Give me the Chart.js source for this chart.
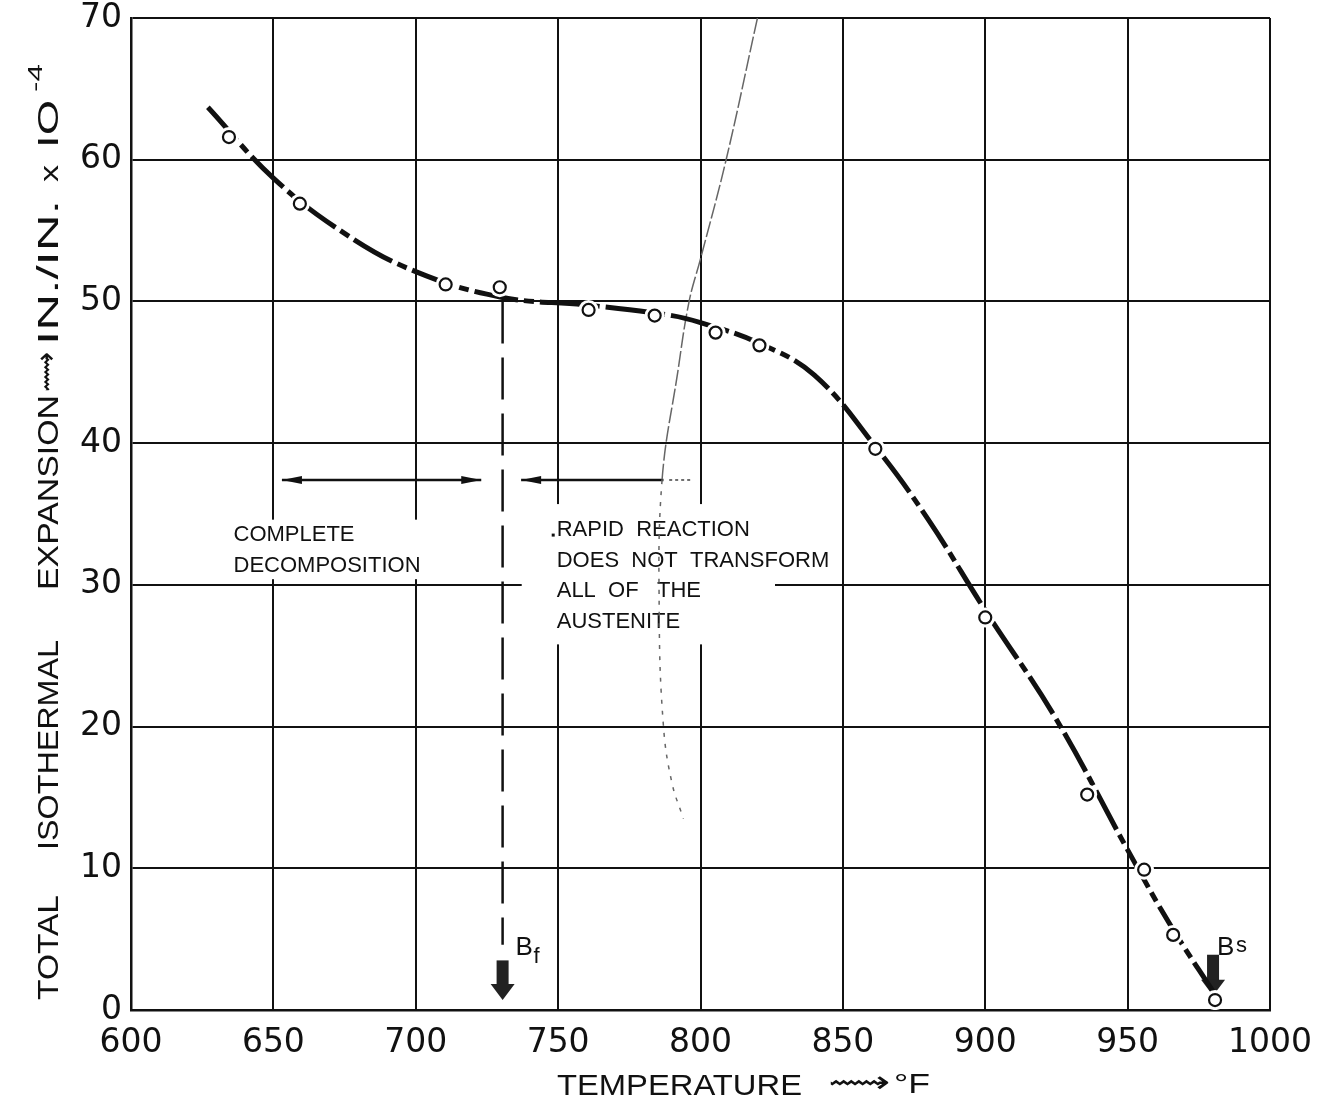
<!DOCTYPE html>
<html>
<head>
<meta charset="utf-8">
<script src="https://cdn.jsdelivr.net/npm/chart.js@4.4.0/dist/chart.umd.min.js"></script>
<style>
  html, body { margin: 0; padding: 0; background: #fff; }
  canvas { display: block; }
</style>
</head>
<body>
<canvas id="grafico" width="1331" height="1105"></canvas>
<script>
// measured points (circles)
const tempPoints = [634.4, 659.3, 710.5, 729.5, 760.7, 783.9, 805.3, 820.7, 861.4, 900, 935.8, 955.8, 966, 980.7];
const expansionPoints = [61.6, 56.9, 51.2, 51.0, 49.4, 49.0, 47.8, 46.9, 39.6, 27.7, 15.2, 9.9, 5.3, 0.7];

// faired curve through the points
const curveTemp = [627, 650, 675, 700, 730, 760, 790, 800, 820, 840, 862, 880, 900, 925, 950, 965, 981];
const curveExp = [63.7, 58.7, 54.8, 52.1, 50.3, 49.75, 49.0, 48.5, 47.1, 44.8, 39.6, 34.6, 28.2, 20.5, 11.3, 6.0, 1.0];

// thin construction line crossing the curve
const thinTemp = [820, 809, 800, 796, 792, 786.5, 785.5, 787, 790, 794];
const thinExp = [70, 60, 53, 50, 45, 37.4, 28, 20, 16, 13.5];

// axes
const xTicks = [600, 650, 700, 750, 800, 850, 900, 950, 1000];
const yTicks = [0, 10, 20, 30, 40, 50, 60, 70];

// notes
const leftNote = ['COMPLETE', 'DECOMPOSITION'];
const rightNote = ['RAPID  REACTION', 'DOES  NOT  TRANSFORM', 'ALL  OF   THE', 'AUSTENITE'];
const bf = 730.5, bs = 980;

const pts = (xs, ys) => xs.map((v, i) => ({ x: v, y: ys[i] }));

const anotacoes = {
  id: 'anotacoes',
  beforeDatasetsDraw(chart) {
    const { ctx, scales: { x, y } } = chart;
    ctx.save();
    ctx.font = '22px "Liberation Sans", Arial, sans-serif';
    ctx.textBaseline = 'middle';

    const lx = x.getPixelForValue(636), rx = x.getPixelForValue(749.5);
    // white patches behind the notes (grid is broken there)
    ctx.fillStyle = '#fff';
    ctx.fillRect(rx - 35, y.getPixelForValue(35.7), 810 - rx, y.getPixelForValue(25.8) - y.getPixelForValue(35.7));
    ctx.fillRect(lx - 4, y.getPixelForValue(34.6), 202, y.getPixelForValue(30.4) - y.getPixelForValue(34.6));

    ctx.fillStyle = '#111';
    [33.5, 31.3].forEach((v, i) => ctx.fillText(leftNote[i], lx, y.getPixelForValue(v)));
    [33.9, 31.7, 29.6, 27.4].forEach((v, i) => ctx.fillText(rightNote[i], rx, y.getPixelForValue(v)));
    ctx.fillRect(rx - 5, y.getPixelForValue(33.9) + 4, 3, 3);

    // range arrows
    const ay = y.getPixelForValue(37.4);
    const seta = (xp, dir) => {
      ctx.beginPath();
      ctx.moveTo(xp, ay);
      ctx.lineTo(xp + dir * 20, ay - 4);
      ctx.lineTo(xp + dir * 20, ay + 4);
      ctx.closePath();
      ctx.fill();
    };
    ctx.strokeStyle = '#111';
    ctx.lineWidth = 2.5;
    ctx.beginPath();
    ctx.moveTo(x.getPixelForValue(653), ay);
    ctx.lineTo(x.getPixelForValue(723), ay);
    ctx.moveTo(x.getPixelForValue(737), ay);
    ctx.lineTo(x.getPixelForValue(787), ay);
    ctx.stroke();
    seta(x.getPixelForValue(653), 1);
    seta(x.getPixelForValue(723), -1);
    seta(x.getPixelForValue(737), 1);
    ctx.lineWidth = 1.2;
    ctx.setLineDash([3, 3]);
    ctx.beginPath();
    ctx.moveTo(x.getPixelForValue(789), ay);
    ctx.lineTo(x.getPixelForValue(797), ay);
    ctx.stroke();

    // B_f dashed drop line
    ctx.lineWidth = 2.5;
    ctx.setLineDash([42, 14]);
    ctx.beginPath();
    ctx.moveTo(x.getPixelForValue(bf), y.getPixelForValue(50.0));
    ctx.lineTo(x.getPixelForValue(bf), y.getPixelForValue(4.6));
    ctx.stroke();
    ctx.setLineDash([]);

    // block arrows
    const bloco = (xv, top, bot) => {
      const xp = x.getPixelForValue(xv), t = y.getPixelForValue(top), b = y.getPixelForValue(bot);
      ctx.fillStyle = '#222';
      ctx.fillRect(xp - 6, t, 12, (b - t) - 14);
      ctx.beginPath();
      ctx.moveTo(xp - 12, b - 16);
      ctx.lineTo(xp + 12, b - 16);
      ctx.lineTo(xp, b);
      ctx.closePath();
      ctx.fill();
    };
    bloco(bf, 3.5, 0.7);
    bloco(bs, 3.9, 1.0);

    ctx.fillStyle = '#111';
    ctx.textBaseline = 'alphabetic';
    ctx.font = '26px "Liberation Sans", Arial, sans-serif';
    ctx.fillText('B', x.getPixelForValue(bf) + 13, y.getPixelForValue(3.9));
    ctx.fillText('B', x.getPixelForValue(bs) + 4, y.getPixelForValue(3.9));
    ctx.font = '22px "Liberation Sans", Arial, sans-serif';
    ctx.fillText('f', x.getPixelForValue(bf) + 31, y.getPixelForValue(3.3));
    ctx.fillText('s', x.getPixelForValue(bs) + 23, y.getPixelForValue(4.1));
    ctx.restore();
  },
  afterDraw(chart) {
    const { ctx } = chart;
    ctx.save();
    ctx.fillStyle = '#111';
    ctx.textBaseline = 'alphabetic';
    const peca = (txt, from, to, font) => {
      ctx.font = font;
      const w = ctx.measureText(txt).width;
      ctx.save();
      ctx.translate(from, 0);
      ctx.scale((to - from) / w, 1);
      ctx.fillText(txt, 0, 0);
      ctx.restore();
    };
    // x title
    ctx.save();
    ctx.translate(0, 1095);
    peca('TEMPERATURE', 557, 802, '30px "Liberation Sans", Arial, sans-serif');
    ctx.translate(0, -3);
    peca('\u27FF', 828, 890, '30px "DejaVu Sans", sans-serif');
    ctx.translate(0, 1);
    peca('\u00B0F', 894, 930, '27px "Liberation Sans", Arial, sans-serif');
    ctx.restore();

    // y title, rotated (bottom to top), each piece squeezed to its span
    ctx.translate(58, 0);
    ctx.rotate(-Math.PI / 2);
    const vpeca = (txt, top, bottom, font) => peca(txt, -bottom, -top, font);
    const f = '30px "Liberation Sans", Arial, sans-serif';
    vpeca('TOTAL', 895, 1000, f);
    vpeca('ISOTHERMAL', 640, 850, f);
    vpeca('EXPANSION', 395, 590, f);
    vpeca('IN./IN.', 200, 345, f);
    vpeca('x', 165, 182, '26px "Liberation Sans", Arial, sans-serif');
    vpeca('IO', 100, 148, f);
    ctx.save();
    ctx.translate(0, -16);
    vpeca('-4', 64, 92, '20px "Liberation Sans", Arial, sans-serif');
    ctx.restore();
    ctx.save();
    ctx.translate(0, -2);
    vpeca('\u27FF', 352, 392, '30px "DejaVu Sans", sans-serif');
    ctx.restore();
    ctx.restore();
  }
};

const ctx = document.getElementById('grafico').getContext('2d');
new Chart(ctx, {
  type: 'scatter',
  data: {
    datasets: [
      {
        label: 'Curva',
        data: pts(curveTemp, curveExp),
        showLine: true,
        borderColor: '#111',
        borderWidth: 5,
        borderDash: [44, 6, 10, 6],
        tension: 0.4,
        pointRadius: 0,
        order: 3
      },
      {
        label: 'Linha',
        data: pts(thinTemp, thinExp),
        showLine: true,
        borderColor: '#666',
        borderWidth: 1.5,
        tension: 0.4,
        pointRadius: 0,
        segment: { borderDash: c => c.p0.parsed.y < 38 ? [4, 7] : [16, 3] },
        order: 4
      },
      {
        // white gap around each circle, as in the drawing
        label: 'Halo',
        data: pts(tempPoints, expansionPoints),
        pointRadius: 10,
        pointBorderWidth: 0,
        pointBackgroundColor: '#fff',
        order: 2
      },
      {
        label: 'Pontos',
        data: pts(tempPoints, expansionPoints),
        pointRadius: 6,
        pointBorderWidth: 2.2,
        pointBorderColor: '#111',
        pointBackgroundColor: '#fff',
        order: 1
      }
    ]
  },
  options: {
    responsive: false,
    animation: false,
    devicePixelRatio: 1,
    layout: { padding: { top: 18, right: 61, left: 0, bottom: 0 } },
    plugins: {
      legend: { display: false },
      tooltip: { enabled: false }
    },
    scales: {
      x: {
        type: 'linear',
        min: 600,
        max: 1000,
        afterFit: s => { s.height = 95; s.paddingLeft = 0; s.paddingRight = 0; },
        afterBuildTicks: s => { s.ticks = xTicks.map(v => ({ value: v })); },
        grid: { color: '#111', lineWidth: 2, drawTicks: false },
        border: { color: '#111', width: 2.5 },
        ticks: {
          color: '#111',
          padding: 14,
          font: { family: 'DejaVu Sans', size: 33 },
          callback: v => String(v)
        }
      },
      y: {
        min: 0,
        max: 70,
        afterFit: s => { s.width = 131; s.paddingTop = 0; s.paddingBottom = 0; },
        afterBuildTicks: s => { s.ticks = yTicks.map(v => ({ value: v })); },
        grid: { color: '#111', lineWidth: 2, drawTicks: false },
        border: { color: '#111', width: 2.5 },
        ticks: {
          color: '#111',
          padding: 9,
          font: { family: 'DejaVu Sans', size: 33 },
          callback: v => String(v)
        }
      }
    }
  },
  plugins: [anotacoes]
});
</script>
</body>
</html>
